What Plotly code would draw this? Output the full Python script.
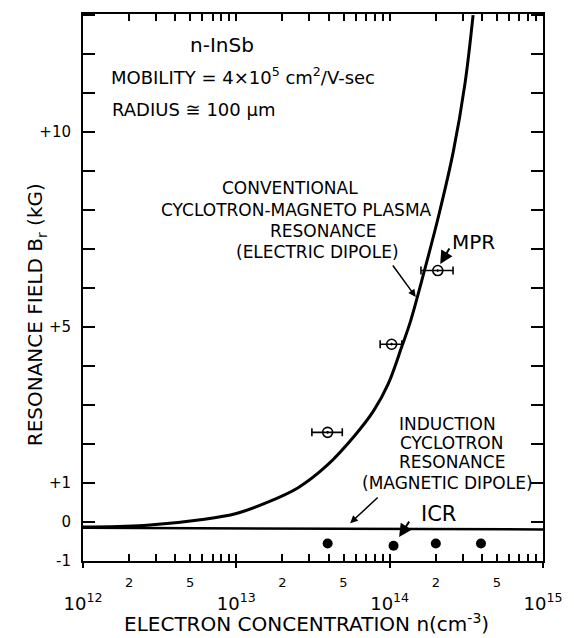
import numpy as np
import plotly.graph_objects as go

# ---------------- data ----------------
# conventional cyclotron-magnetoplasma resonance curve (n in cm^-3, B in kG)
curve_n = [1e12, 2.5e12, 6.2e12, 1.0e13, 1.56e13, 2.53e13, 3.9e13, 5.87e13, 7.85e13,
           9.8e13, 1.2e14, 1.37e14, 1.66e14, 2.1e14, 2.6e14, 3.1e14, 3.5e14]
curve_b = [-0.13, -0.09, 0.07, 0.22, 0.49, 0.88, 1.45, 2.2, 2.85,
           3.55, 4.5, 5.16, 6.35, 7.9, 9.5, 11.25, 13.0]

# induction cyclotron resonance line
icr_line_n = [1e12, 1e15]
icr_line_b = [-0.15, -0.19]

# MPR measured points with horizontal error bars
mpr_n = [3.94e13, 1.03e14, 2.06e14]
mpr_b = [2.30, 4.56, 6.45]
mpr_lo = [3.11e13, 8.67e13, 1.60e14]
mpr_hi = [4.91e13, 1.20e14, 2.59e14]

# ICR measured points
icr_n = [3.94e13, 1.06e14, 2.0e14, 3.94e14]
icr_b = [-0.55, -0.61, -0.55, -0.55]

# axis ticks
x_decades = [12, 13, 14, 15]
x_minor_digits = [2, 3, 4, 5, 6, 7, 8, 9]
x_labeled_digits = {2: "2", 5: "5"}
y_tick_vals = list(range(-1, 14))
y_tick_labels = {10: "+10", 5: "+5", 1: "+1", 0: "0", -1: "-1"}

# ---------------- layout geometry ----------------
W, H = 574, 638
L, R, T, B = 83, 553, 12, 561
FONT = "DejaVu Sans"

def px(x):
    return (x - L) / (R - L)

def py(y):
    return (B - y) / (B - T)

xt_vals, xt_text = [], []
for d in x_decades:
    xt_vals.append(10.0 ** d)
    xt_text.append(" <br>10<sup>%d</sup>" % d)
    if d < 15:
        for m in x_minor_digits:
            xt_vals.append(m * 10.0 ** d)
            lab = x_labeled_digits.get(m, "")
            xt_text.append("<span style='font-size:13px'>%s</span>" % lab if lab else "")

yt_text = [y_tick_labels.get(v, "") for v in y_tick_vals]

fig = go.Figure()

fig.add_trace(go.Scatter(x=curve_n, y=curve_b, mode="lines", line=dict(color="black", width=3, shape="spline", smoothing=1.0),
                         hoverinfo="skip", showlegend=False))
fig.add_trace(go.Scatter(x=icr_line_n, y=icr_line_b, mode="lines", line=dict(color="black", width=2.5),
                         hoverinfo="skip", showlegend=False, xaxis="x2"))

err_plus = [h - n for h, n in zip(mpr_hi, mpr_n)]
err_minus = [n - l for n, l in zip(mpr_n, mpr_lo)]
fig.add_trace(go.Scatter(x=mpr_n, y=mpr_b, mode="markers",
                         marker=dict(symbol="circle-open-dot", size=10, color="black", line=dict(width=1.6)),
                         error_x=dict(type="data", symmetric=False, array=err_plus, arrayminus=err_minus,
                                      color="black", thickness=1.6, width=4),
                         showlegend=False))
fig.add_trace(go.Scatter(x=icr_n, y=icr_b, mode="markers",
                         marker=dict(symbol="circle", size=10, color="black"), showlegend=False))

anns = []
def txt(x, y, s, size=16, xanchor="center", yanchor="middle"):
    anns.append(dict(x=px(x), y=py(y), xref="paper", yref="paper", text=s, showarrow=False,
                     xanchor=xanchor, yanchor=yanchor, font=dict(family=FONT, size=size, color="black")))

txt(225, 43, "n-InSb", 20)
txt(110, 74, "MOBILITY = 4×10<sup>5</sup> cm<sup>2</sup>/V-sec", 18, "left")
txt(111, 108, "RADIUS ≅ 100 μm", 18, "left")
txt(294, 187, "CONVENTIONAL", 17)
txt(301, 209, "CYCLOTRON-MAGNETO PLASMA", 17)
txt(328, 230, "RESONANCE", 17)
txt(323, 251, "(ELECTRIC DIPOLE)", 17)
txt(482, 241, "MPR", 20)
txt(455, 424, "INDUCTION", 17)
txt(460, 443, "CYCLOTRON", 17)
txt(460, 462, "RESONANCE", 17)
txt(455, 483, "(MAGNETIC DIPOLE)", 17)
txt(446, 514, "ICR", 21)
txt(311, 638, "ELECTRON CONCENTRATION n(cm<sup>-3</sup>)", 20, "center", "bottom")
anns.append(dict(x=px(20), y=py(314), xref="paper", yref="paper", text="RESONANCE FIELD B<sub>r</sub> (kG)",
                 textangle=-90, showarrow=False, font=dict(family=FONT, size=20, color="black")))

def arrow(x0, y0, x1, y1, head=2, size=1.0, width=1.5):
    anns.append(dict(x=px(x1), y=py(y1), xref="paper", yref="paper", ax=x0 - x1, ay=y0 - y1,
                     axref="pixel", ayref="pixel", text="", showarrow=True, arrowhead=head,
                     arrowsize=size, arrowwidth=width, arrowcolor="black"))

arrow(399, 263, 423, 296)
arrow(458, 246, 448, 263, head=2, size=1.3, width=2)
arrow(385, 496, 356, 523)
arrow(417, 520, 406, 537, head=2, size=1.3, width=2)

axis_common = dict(showline=True, linecolor="black", linewidth=2, mirror="ticks", ticks="inside",
                   tickcolor="black", tickwidth=1.5, showgrid=False, zeroline=False)

fig.update_layout(
    width=W, height=H, margin=dict(l=L, r=W - R, t=T, b=H - B),
    plot_bgcolor="white", paper_bgcolor="white", showlegend=False,
    xaxis=dict(type="log", range=[12, 15], tickvals=xt_vals, ticktext=xt_text, ticklen=7,
               ticklabelstandoff=2, tickfont=dict(family=FONT, size=18, color="black"), **axis_common),
    xaxis2=dict(type="log", range=[12, 15], overlaying="x", anchor="y", side="bottom",
                tickvals=[10.0 ** d for d in x_decades], ticks="outside", ticklen=6, tickwidth=1.5,
                tickcolor="black", showticklabels=False, showline=False, showgrid=False, zeroline=False),
    yaxis=dict(range=[-1, 13.03], tickvals=y_tick_vals, ticktext=yt_text, ticklen=12, ticklabelstandoff=7,
               tickfont=dict(family=FONT, size=15, color="black"), **axis_common),
    annotations=anns,
)

fig.write_html("out.html", config={"displayModeBar": False},
               post_script="document.body.style.margin='0';document.documentElement.style.margin='0';"
                           "document.body.style.overflow='hidden';")
